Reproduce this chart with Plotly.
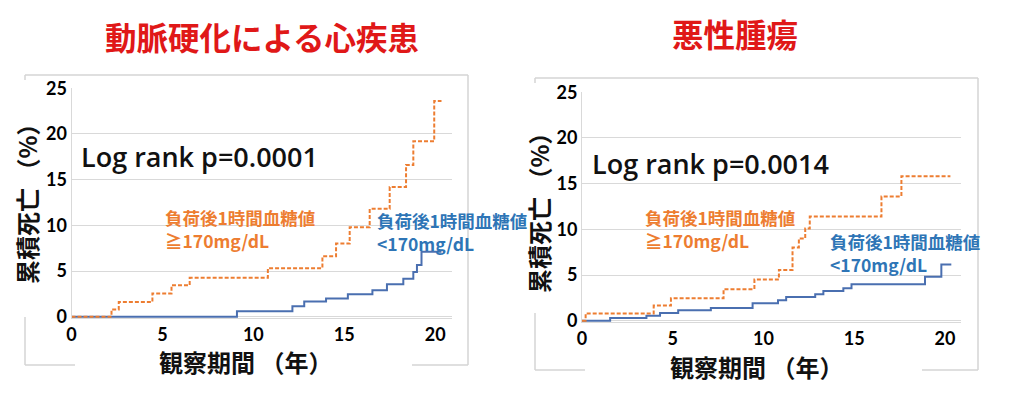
import plotly.graph_objects as go

# figure is placed by the page at an 8px body margin; size it to fit the window
W, H = 1016, 388
OFF = 8

# ---- data (years, cumulative death %) ----
cvd_high_t = [0, 2.2, 2.6, 4.45, 5.5, 6.5, 10.8, 13.8, 14.55, 15.3, 16.4, 17.5, 18.4, 18.8, 19.95, 20.35]
cvd_high_v = [0, 0.8, 1.6, 2.55, 3.45, 4.25, 5.3, 6.6, 8.0, 9.8, 11.8, 14.2, 16.6, 19.2, 23.6, 23.6]
cvd_low_t = [0, 9.1, 12.15, 12.8, 14.0, 15.2, 16.55, 17.35, 18.25, 18.8, 19.0, 19.25, 20.35]
cvd_low_v = [0, 0.6, 1.15, 1.65, 2.0, 2.45, 2.9, 3.55, 4.15, 4.9, 5.65, 7.1, 7.1]

ca_high_t = [0, 0.2, 3.95, 4.9, 7.8, 9.5, 10.85, 11.6, 11.95, 12.3, 12.55, 16.5, 17.6, 20.3]
ca_high_v = [0, 0.8, 1.65, 2.45, 3.45, 4.5, 5.55, 8.0, 9.0, 10.1, 11.4, 13.6, 15.8, 15.8]
ca_low_t = [0, 1.55, 3.55, 4.3, 5.3, 7.1, 9.4, 10.8, 11.25, 12.85, 13.3, 14.4, 14.85, 18.9, 19.8, 20.35]
ca_low_v = [0, 0.3, 0.55, 0.85, 1.15, 1.4, 1.9, 2.25, 2.6, 2.9, 3.25, 3.55, 4.0, 4.8, 6.15, 6.15]

panel_titles = ["動脈硬化による心疾患", "悪性腫瘍"]
pvalues = ["Log rank p=0.0001", "Log rank p=0.0014"]
label_high = "負荷後1時間血糖値<br>≧170mg/dL"
label_low = "負荷後1時間血糖値<br><170mg/dL"
x_title = "観察期間 （年）"
y_title = "累積死亡 （%）"
x_ticks = [0, 5, 10, 15, 20]
y_ticks = [0, 5, 10, 15, 20, 25]

ORANGE = "#ED7D31"
BLUE_LINE = "#4A6FB0"
BLUE_TEXT = "#2E75B6"
RED = "#E01818"
GRID = "#D9D9D9"
FRAME = "#D4D4D4"
JP = "Noto Sans CJK JP"
NUM = "Lato"

def px(x):
    return (x - OFF) / W

def py(y):
    return 1 - (y - OFF) / H

fig = go.Figure()
fig.add_trace(go.Scatter(x=cvd_low_t, y=cvd_low_v, mode="lines", line_shape="hv",
                         line=dict(color=BLUE_LINE, width=2), xaxis="x", yaxis="y", showlegend=False))
fig.add_trace(go.Scatter(x=cvd_high_t, y=cvd_high_v, mode="lines", line_shape="hv",
                         line=dict(color=ORANGE, width=2, dash="4px,2px"), xaxis="x", yaxis="y", showlegend=False))
fig.add_trace(go.Scatter(x=ca_low_t, y=ca_low_v, mode="lines", line_shape="hv",
                         line=dict(color=BLUE_LINE, width=2), xaxis="x2", yaxis="y2", showlegend=False))
fig.add_trace(go.Scatter(x=ca_high_t, y=ca_high_v, mode="lines", line_shape="hv",
                         line=dict(color=ORANGE, width=2, dash="4px,2px"), xaxis="x2", yaxis="y2", showlegend=False))

tickfont = dict(family=NUM, size=18, color="#000000", weight="bold")
xax = dict(range=[0, 20.9], tickvals=x_ticks, showgrid=False, zeroline=False, automargin=False,
           showline=True, linecolor=GRID, linewidth=1, ticks="", tickfont=tickfont, fixedrange=True)
yax = dict(range=[-0.15, 25.05], tickvals=y_ticks, showgrid=True, gridcolor=GRID, gridwidth=1,
           zeroline=False, showline=True, linecolor=GRID, linewidth=1, ticks="", tickfont=tickfont,
           fixedrange=True, automargin=False)

fig.update_layout(
    width=W, height=H,
    margin=dict(l=0, r=0, t=0, b=0, autoexpand=False),
    paper_bgcolor="white", plot_bgcolor="white",
    xaxis=dict(xax, domain=[px(71.5), px(451.5)], anchor="y"),
    yaxis=dict(yax, domain=[py(318.07), py(87.74)], anchor="x"),
    xaxis2=dict(xax, domain=[px(582), px(961.3)], anchor="y2"),
    yaxis2=dict(yax, domain=[py(322.07), py(91.74)], anchor="x2"),
)

# outer frames (drawn as segments so the axis titles sit in gaps)
def seg(x0, y0, x1, y1):
    fig.add_shape(type="line", xref="paper", yref="paper", x0=px(x0), y0=py(y0), x1=px(x1), y1=py(y1),
                  line=dict(color=FRAME, width=1.5), layer="below")

# left frame
seg(25, 75, 468, 75)
seg(468, 75, 468, 365)
seg(25, 75, 25, 80)
seg(25, 317, 25, 365)
seg(25, 365, 75, 365)
seg(412, 365, 468, 365)
# right frame
seg(535, 78, 978, 78)
seg(978, 78, 978, 370)
seg(535, 78, 535, 83)
seg(535, 313, 535, 370)
seg(535, 370, 585, 370)
seg(922, 370, 978, 370)

def ann(text, x, y, size, color, family=JP, weight="bold", xanchor="center", align="center",
        textangle=0):
    fig.add_annotation(text=text, x=px(x), y=py(y), xref="paper", yref="paper", showarrow=False,
                       xanchor=xanchor, yanchor="middle", align=align, textangle=textangle,
                       font=dict(family=family, size=size, color=color, weight=weight))

# panel titles
ann(panel_titles[0], 262, 36, 31.5, RED)
ann(panel_titles[1], 735, 33, 31.5, RED)

# p values
ann(pvalues[0], 199, 156, 27, "#111111", family="Open Sans", weight=600)
ann(pvalues[1], 710, 163, 27, "#111111", family="Open Sans", weight=600)

# group labels
ann(label_high, 163, 229, 17.5, ORANGE, xanchor="left", align="left")
ann(label_low, 375, 232, 17.5, BLUE_TEXT, xanchor="left", align="left")
ann(label_high, 643, 229, 17.5, ORANGE, xanchor="left", align="left")
ann(label_low, 828, 253, 17.5, BLUE_TEXT, xanchor="left", align="left")

# axis titles
ann(x_title, 245, 361, 24, "#111111")
ann(x_title, 756, 366, 24, "#111111")
ann(y_title, 26, 198, 24, "#111111", textangle=-90)
ann(y_title, 539, 207, 24, "#111111", textangle=-90)

fig.write_html("out.html")
